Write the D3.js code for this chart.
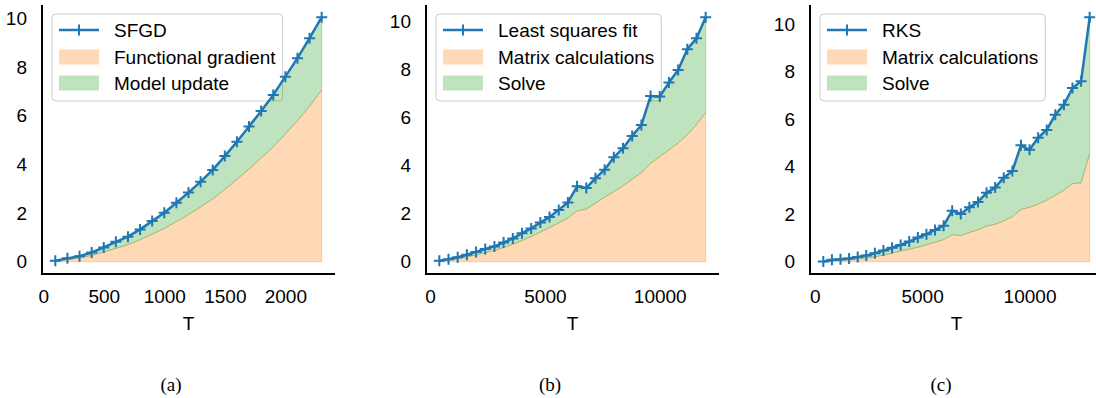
<!DOCTYPE html>
<html>
<head>
<meta charset="utf-8">
<script src="https://cdn.jsdelivr.net/npm/d3@7"></script>
<style>
  body { margin: 0; background: #fff; }
  text { font-family: "Liberation Sans", Arial, sans-serif; }
  text.caption { font-family: "Liberation Serif", "DejaVu Serif", serif; }
</style>
</head>
<body>
<svg id="chart" width="1096" height="398"></svg>
<script>
// panel (a) SFGD
const tA = [100, 200, 300, 400, 500, 600, 700, 800, 900, 1000, 1100, 1200,
  1300, 1400, 1500, 1600, 1700, 1800, 1900, 2000, 2100, 2200, 2300];
const sfgdTotal = [0.04, 0.14, 0.23, 0.38, 0.59, 0.82, 1.03, 1.33, 1.67, 2.01, 2.42, 2.84,
  3.29, 3.77, 4.34, 4.93, 5.55, 6.19, 6.85, 7.60, 8.36, 9.18, 10.04];
const sfgdGradient = [0.03, 0.09, 0.16, 0.26, 0.40, 0.55, 0.70, 0.90, 1.13, 1.37, 1.65, 1.94,
  2.25, 2.58, 2.97, 3.38, 3.81, 4.26, 4.72, 5.25, 5.79, 6.38, 7.05];

// panel (b) least squares
const tB = [400, 800, 1200, 1600, 2000, 2400, 2800, 3200, 3600, 4000,
  4400, 4800, 5200, 5600, 6000, 6400, 6800, 7200, 7600, 8000,
  8400, 8800, 9200, 9600, 10000, 10400, 10800, 11200, 11600, 12000];
const lsqTotal = [0.04, 0.11, 0.19, 0.29, 0.41, 0.53, 0.64, 0.80, 0.97, 1.19,
  1.39, 1.63, 1.86, 2.16, 2.47, 3.14, 3.07, 3.48, 3.83, 4.35,
  4.73, 5.24, 5.69, 6.90, 6.88, 7.46, 7.98, 8.85, 9.30, 10.18];
const lsqMatrix = [0.02, 0.07, 0.12, 0.20, 0.28, 0.38, 0.47, 0.59, 0.73, 0.88,
  1.05, 1.24, 1.42, 1.62, 1.82, 2.12, 2.19, 2.44, 2.69, 2.92,
  3.16, 3.44, 3.71, 4.10, 4.37, 4.66, 4.94, 5.29, 5.71, 6.20];

// panel (c) RKS
const tC = [400, 800, 1200, 1600, 2000, 2400, 2800, 3200, 3600, 4000,
  4400, 4800, 5200, 5600, 6000, 6400, 6800, 7200, 7600, 8000,
  8400, 8800, 9200, 9600, 10000, 10400, 10800, 11200, 11600, 12000,
  12400, 12800];
const rksTotal = [0.01, 0.08, 0.11, 0.14, 0.20, 0.26, 0.36, 0.47, 0.59, 0.71,
  0.85, 1.02, 1.16, 1.34, 1.52, 2.15, 2.01, 2.29, 2.52, 2.90,
  3.12, 3.54, 3.82, 4.90, 4.71, 5.22, 5.55, 6.19, 6.61, 7.31,
  7.60, 10.29];
const rksMatrix = [0.01, 0.03, 0.06, 0.08, 0.11, 0.15, 0.21, 0.28, 0.36, 0.45,
  0.53, 0.61, 0.71, 0.82, 0.93, 1.14, 1.10, 1.23, 1.34, 1.50,
  1.58, 1.72, 1.90, 2.20, 2.29, 2.43, 2.59, 2.80, 3.01, 3.29,
  3.32, 4.55];

const yTicks = [0, 2, 4, 6, 8, 10];

const panels = [
  { t: tA, total: sfgdTotal, lower: sfgdGradient, xTicks: [0, 500, 1000, 1500, 2000],
    names: ["SFGD", "Functional gradient", "Model update"], caption: "(a)", left: 42, capX: 171 },
  { t: tB, total: lsqTotal, lower: lsqMatrix, xTicks: [0, 5000, 10000],
    names: ["Least squares fit", "Matrix calculations", "Solve"], caption: "(b)", left: 426, capX: 550 },
  { t: tC, total: rksTotal, lower: rksMatrix, xTicks: [0, 5000, 10000],
    names: ["RKS", "Matrix calculations", "Solve"], caption: "(c)", left: 810, capX: 941 }
];

const W = 293, axTop = 5, axBottom = 274;
const blue = "#1f77b4", orange = "#ff7f0e", green = "#2ca02c";
const fs = 19;

const svg = d3.select("#chart");
svg.append("rect").attr("width", 1096).attr("height", 398).attr("fill", "#fff");

const plus = s => `M${-s / 2},0H${s / 2}M0,${-s / 2}V${s / 2}`;

panels.forEach(p => {
  const rows = p.t.map((t, i) => ({ t: t, total: p.total[i], lower: p.lower[i] }));
  const tExt = d3.extent(p.t), tR = tExt[1] - tExt[0];
  const yMax = d3.max(p.total);
  const x = d3.scaleLinear().domain([tExt[0] - 0.05 * tR, tExt[1] + 0.05 * tR]).range([p.left, p.left + W]);
  const y = d3.scaleLinear().domain([-0.05 * yMax, yMax * 1.05]).range([axBottom, axTop]);

  const g = svg.append("g");

  // legend first, the curve passes over it like in the original
  const lx = p.left + 10, ly = 14;
  const leg = g.append("g");
  const box = leg.append("rect").attr("x", lx).attr("y", ly).attr("height", 87).attr("rx", 4)
    .attr("fill", "#fff").attr("fill-opacity", 0.8).attr("stroke", "#cccccc").attr("stroke-width", 1);
  const rowY = [ly + 16, ly + 43, ly + 69];
  leg.append("line").attr("x1", lx + 7).attr("x2", lx + 47).attr("y1", rowY[0]).attr("y2", rowY[0])
    .attr("stroke", blue).attr("stroke-width", 2.5);
  leg.append("path").attr("transform", `translate(${lx + 27},${rowY[0]})`).attr("d", plus(11))
    .attr("stroke", blue).attr("stroke-width", 2);
  leg.append("rect").attr("x", lx + 7).attr("y", rowY[1] - 7.5).attr("width", 40).attr("height", 15)
    .attr("fill", orange).attr("fill-opacity", 0.3);
  leg.append("rect").attr("x", lx + 7).attr("y", rowY[2] - 7.5).attr("width", 40).attr("height", 15)
    .attr("fill", green).attr("fill-opacity", 0.3);
  let maxW = 0;
  p.names.forEach((nm, i) => {
    const tx = leg.append("text").attr("x", lx + 62).attr("y", rowY[i]).attr("dy", "0.35em")
      .attr("font-size", fs).text(nm);
    maxW = Math.max(maxW, tx.node().getComputedTextLength());
  });
  box.attr("width", 62 + maxW + 7);

  g.append("path").datum(rows)
    .attr("d", d3.area().x(d => x(d.t)).y0(y(0)).y1(d => y(d.lower)))
    .attr("fill", orange).attr("fill-opacity", 0.3)
    .attr("stroke", orange).attr("stroke-opacity", 0.3).attr("stroke-width", 1);

  g.append("path").datum(rows)
    .attr("d", d3.area().x(d => x(d.t)).y0(d => y(d.lower)).y1(d => y(d.total)))
    .attr("fill", green).attr("fill-opacity", 0.3)
    .attr("stroke", green).attr("stroke-opacity", 0.3).attr("stroke-width", 1);

  g.append("path").datum(rows)
    .attr("d", d3.line().x(d => x(d.t)).y(d => y(d.total)))
    .attr("fill", "none").attr("stroke", blue).attr("stroke-width", 2.5)
    .attr("stroke-linejoin", "round");

  g.selectAll(".mk").data(rows).enter().append("path")
    .attr("transform", d => `translate(${x(d.t)},${y(d.total)})`)
    .attr("d", plus(11)).attr("stroke", blue).attr("stroke-width", 2).attr("fill", "none");

  // axes, only left and bottom spines
  const ya = g.append("g").attr("transform", `translate(${p.left},0)`)
    .call(d3.axisLeft(y).tickValues(yTicks).tickSize(0).tickPadding(15).tickFormat(d3.format("d")));
  ya.select(".domain").remove();
  ya.selectAll("text").attr("font-size", fs).attr("fill", "#000");

  const xa = g.append("g").attr("transform", `translate(0,${axBottom})`)
    .call(d3.axisBottom(x).tickValues(p.xTicks).tickSize(0).tickPadding(16).tickFormat(d3.format("d")));
  xa.select(".domain").remove();
  xa.selectAll("text").attr("font-size", fs).attr("fill", "#000");

  g.append("line").attr("x1", p.left).attr("x2", p.left).attr("y1", axTop).attr("y2", axBottom + 1)
    .attr("stroke", "#000").attr("stroke-width", 2);
  g.append("line").attr("x1", p.left - 1).attr("x2", p.left + W).attr("y1", axBottom).attr("y2", axBottom)
    .attr("stroke", "#000").attr("stroke-width", 2);

  g.append("text").attr("x", p.left + W / 2).attr("y", 330).attr("text-anchor", "middle")
    .attr("font-size", fs).text("T");

  g.append("text").attr("class", "caption").attr("x", p.capX).attr("y", 391).attr("text-anchor", "middle")
    .attr("font-size", 19).text(p.caption);
});
</script>
</body>
</html>
